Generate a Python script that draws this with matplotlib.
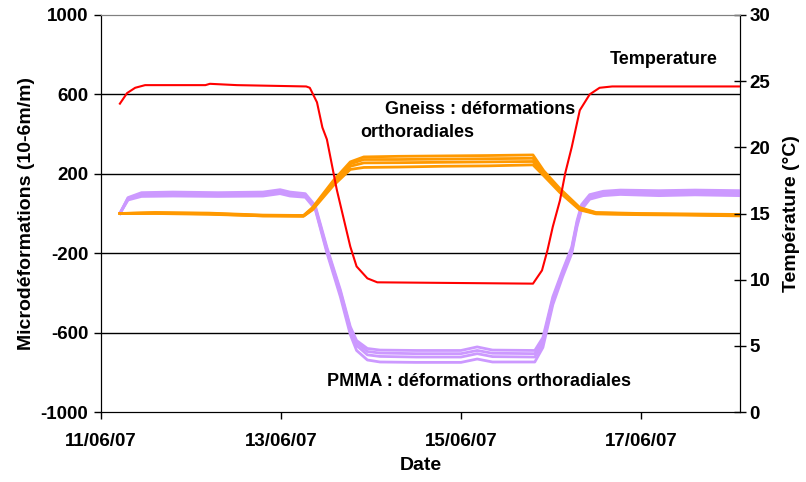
import matplotlib.pyplot as plt

# time in days since 11/06/07 00:00
t_temp = [0.21, 0.29, 0.38, 0.49, 1.16, 1.21, 1.51, 2.28, 2.32, 2.40, 2.46, 2.51, 2.62,
          2.77, 2.84, 2.96, 3.07, 4.80, 4.90, 4.96, 5.02, 5.10, 5.16, 5.23, 5.32, 5.43,
          5.54, 5.68, 7.10]
temperature = [23.3, 24.1, 24.5, 24.7, 24.7, 24.8, 24.7, 24.6, 24.5, 23.4, 21.5, 20.6, 16.8,
               12.5, 11.0, 10.1, 9.8, 9.7, 10.7, 12.2, 14.0, 16.0, 18.1, 20.0, 22.8, 24.0,
               24.5, 24.6, 24.6]

t_gneiss = [0.21, 0.6, 1.2, 1.8, 2.25, 2.35, 2.58, 2.77, 2.92, 3.3, 3.8, 4.3, 4.8,
            4.92, 5.1, 5.32, 5.5, 6.0, 6.5, 7.1]
gneiss_1 = [0, 5, 2, -8, -10, 30, 165, 260, 285, 288, 290, 292, 295, 215, 125, 30, 5, 0, -2, -5]
gneiss_2 = [0, 3, 0, -10, -12, 25, 155, 250, 272, 272, 274, 276, 278, 205, 118, 25, 3, -2, -5, -8]
gneiss_3 = [0, 2, -2, -12, -12, 22, 148, 238, 255, 256, 258, 260, 262, 198, 112, 22, 0, -4, -6, -10]
gneiss_4 = [0, 0, -4, -12, -14, 18, 140, 222, 232, 234, 238, 240, 245, 190, 105, 18, -2, -6, -8, -12]

t_pmma = [0.21, 0.3, 0.45, 0.8, 1.3, 1.8, 1.99, 2.1, 2.27, 2.38, 2.51, 2.66, 2.77, 2.84,
          2.96, 3.1, 3.5, 4.0, 4.18, 4.35, 4.82, 4.91, 5.02, 5.13, 5.23, 5.29, 5.34, 5.43,
          5.58, 5.77, 6.2, 6.6, 7.1]
pmma_1 = [0, 80, 105, 108, 105, 108, 120, 108, 100, 40, -170, -385, -570, -640, -680, -688,
          -690, -690, -672, -688, -690, -625, -420, -285, -170, -35, 45, 95, 112, 118, 115, 118, 115]
pmma_2 = [0, 76, 98, 100, 98, 100, 112, 100, 92, 32, -180, -395, -580, -650, -695, -703,
          -706, -706, -690, -704, -706, -640, -432, -295, -180, -45, 35, 86, 104, 110, 106, 110, 106]
pmma_3 = [0, 72, 92, 95, 92, 94, 106, 95, 88, 28, -188, -405, -592, -665, -712, -720,
          -723, -723, -706, -721, -723, -655, -445, -305, -190, -55, 28, 80, 97, 103, 98, 102, 98]
pmma_4 = [0, 68, 86, 88, 86, 88, 100, 88, 82, 22, -198, -420, -610, -690, -738, -748,
          -750, -750, -733, -748, -748, -675, -460, -318, -202, -65, 20, 72, 90, 96, 90, 94, 90]

date_ticks = [0, 2, 4, 6]
date_labels = ['11/06/07', '13/06/07', '15/06/07', '17/06/07']
strain_ticks = [-1000, -600, -200, 200, 600, 1000]
temp_ticks = [0, 5, 10, 15, 20, 25, 30]

plt.rcParams['font.family'] = ['Liberation Sans', 'DejaVu Sans']
plt.rcParams['font.weight'] = 'bold'
plt.rcParams['axes.unicode_minus'] = False

fig = plt.figure(figsize=(8.06, 4.82), dpi=100)
ax = fig.add_axes([0.1253, 0.1452, 0.7928, 0.8237])
ax2 = ax.twinx()

# horizontal grid lines
for v in [600, 200, -200, -600]:
    ax.axhline(v, color='black', lw=1, zorder=1)

for vals in [pmma_1, pmma_2, pmma_3, pmma_4]:
    ax.plot(t_pmma, vals, color='#CC99FF', lw=2, zorder=3)
for vals in [gneiss_1, gneiss_2, gneiss_3, gneiss_4]:
    ax.plot(t_gneiss, vals, color='#FF9900', lw=2, zorder=3)

ax2.plot(t_temp, temperature, color='#FF0000', lw=1.5)

ax.set_xlim(0, 7.1)
ax.set_ylim(-1000, 1000)
ax2.set_ylim(0, 30)

ax.set_xticks(date_ticks)
ax.set_xticklabels(date_labels)
ax.set_yticks(strain_ticks)
ax2.set_yticks(temp_ticks)

ax.tick_params(axis='both', labelsize=13.5, direction='out', length=5, width=1, pad=4)
ax.tick_params(axis='x', pad=10)
ax2.tick_params(axis='y', labelsize=13.5, direction='inout', length=8, width=1, pad=3)

for a in (ax, ax2):
    a.spines['top'].set_color('#808080')
    for s in ['left', 'right', 'bottom']:
        a.spines[s].set_color('black')

ax.set_xlabel('Date', fontsize=14, fontweight='bold', labelpad=5)
ax.set_ylabel('Microdéformations (10-6m/m)', fontsize=14, fontweight='bold', labelpad=4)
ax2.set_ylabel('Température (°C)', fontsize=14, fontweight='bold', labelpad=9)

ax2.text(0.881, 0.887, 'Temperature', transform=ax.transAxes, fontsize=13,
         fontweight='bold', ha='center', va='center')
ax.text(0.444, 0.761, 'Gneiss : déformations', transform=ax.transAxes, fontsize=13,
        fontweight='bold', ha='left', va='center')
ax.text(0.405, 0.703, 'orthoradiales', transform=ax.transAxes, fontsize=13,
        fontweight='bold', ha='left', va='center')
ax.text(0.354, 0.076, 'PMMA : déformations orthoradiales', transform=ax.transAxes,
        fontsize=13, fontweight='bold', ha='left', va='center')

fig.savefig('out.png', dpi=100)
